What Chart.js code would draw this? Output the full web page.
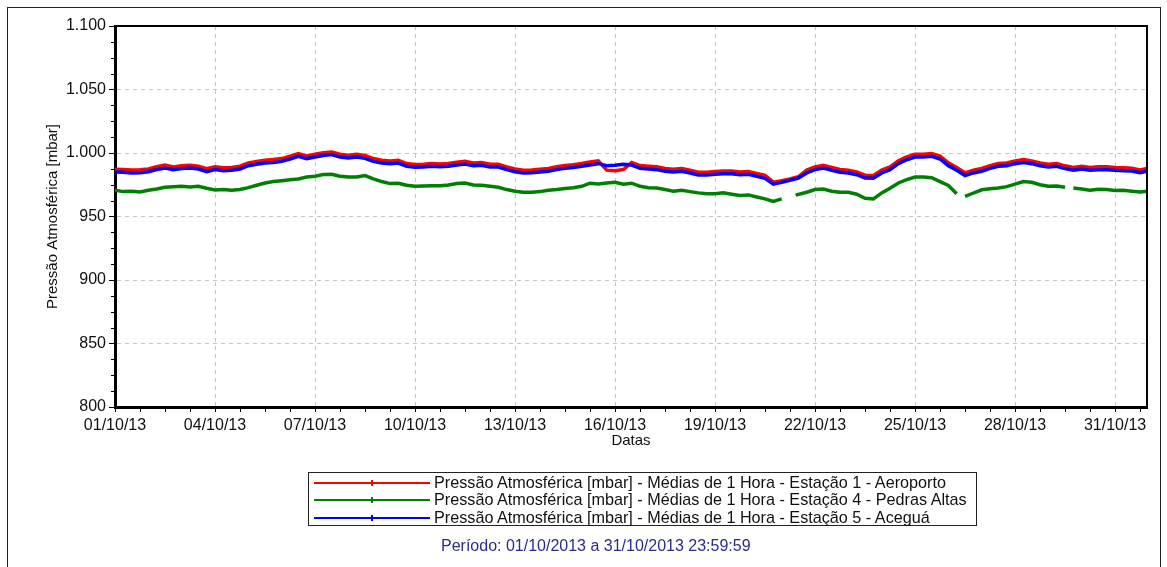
<!DOCTYPE html>
<html>
<head>
<meta charset="utf-8">
<script src="https://cdn.jsdelivr.net/npm/chart.js@4.4.1/dist/chart.umd.min.js"></script>
<style>
  html, body { margin: 0; padding: 0; background: #fff; }
  body { width: 1167px; height: 567px; position: relative; overflow: hidden;
         font-family: 'Liberation Sans', Arial, sans-serif; }
  #frame { position: absolute; left: 7px; top: 7px; width: 1152px; height: 600px; border: 1px solid #222; }
  #wrap { position: absolute; left: 0; top: 0; width: 1167px; height: 567px; }
  #legend { position: absolute; left: 308px; top: 472px; width: 669px; height: 54px;
            border: 1px solid #222; box-sizing: border-box; padding-top: 1px; }
  .row { position: relative; height: 17.3px; line-height: 17.3px; font-size: 16.2px; color: #111; white-space: nowrap; }
  .sample { position: absolute; left: 5px; top: 8px; width: 116px; height: 2px; }
  .tick { position: absolute; left: 57px; top: -2px; width: 2px; height: 6px; }
  .txt { position: absolute; left: 125px; top: 0; }
  #periodo { position: absolute; left: 441px; top: 537px; font-size: 16px; color: #2b2b8f; white-space: nowrap; }
</style>
</head>
<body>
<div id="frame"></div>
<div id="wrap"><canvas id="c" width="1167" height="567"></canvas></div>
<div id="legend"></div>
<div id="periodo">Período: 01/10/2013 a 31/10/2013 23:59:59</div>
<script>
// ---- data (hours since 01/10/2013 00:00, 6-hour readings) ----
const hours = Array.from({length: 125}, (_, i) => Math.min(i * 6, 743));

const estacao1 = [
  987.2, 987.0, 986.6, 986.8,  987.5, 989.2, 990.6, 989.0,  989.9, 990.4, 989.6, 987.6,
  989.1, 988.3, 988.6, 989.6,  992.2, 993.3, 994.3, 994.8,  995.6, 997.5, 999.6, 997.7,
  999.0, 1000.3, 1000.8, 999.0, 998.2, 999.0, 998.0, 995.6, 994.3, 993.8, 994.3, 991.7,
  990.9, 991.2, 991.7, 991.4,  991.7, 992.7, 993.5, 992.2,  992.5, 991.2, 991.2, 989.1,
  987.5, 986.5, 986.7, 987.2,  987.8, 989.1, 990.1, 990.7,  991.7, 993.0, 993.8, 986.5,
  986.0, 987.0, 992.5, 990.1,  989.6, 989.1, 987.8, 987.2,  987.8, 986.5, 984.9, 984.9,
  985.4, 985.9, 985.9, 985.1,  985.4, 983.8, 982.3, 977.0,  978.2, 979.5, 981.3, 986.5,
  989.1, 990.4, 988.6, 987.0,  986.5, 985.1, 982.5, 982.3,  986.5, 989.1, 993.8, 996.9,
  999.0, 999.0, 999.6, 997.5,  992.2, 988.6, 984.4, 986.5,  987.8, 990.1, 991.7, 992.2,
  993.8, 994.8, 993.8, 992.2,  991.2, 991.7, 989.9, 988.6,  989.6, 988.6, 989.1, 989.1,
  988.6, 988.3, 988.0, 986.7,  987.8
];

const estacao5 = [
  985.0, 984.8, 984.3, 984.5,  985.3, 986.9, 988.2, 986.9,  987.7, 988.2, 987.4, 985.3,
  986.9, 986.1, 986.4, 987.4,  990.0, 991.1, 992.1, 992.6,  993.4, 995.3, 997.4, 995.5,
  996.8, 998.1, 998.8, 996.8,  996.0, 996.8, 995.8, 993.4,  992.1, 991.6, 992.1, 989.5,
  988.7, 989.0, 989.5, 989.2,  989.5, 990.5, 991.3, 990.0,  990.3, 989.0, 989.0, 986.9,
  985.3, 984.3, 984.5, 985.0,  985.6, 986.9, 987.9, 988.5,  989.5, 990.5, 991.6, 990.0,
  990.3, 991.1, 990.5, 987.9,  987.4, 986.9, 985.6, 985.0,  985.6, 984.3, 982.7, 982.7,
  983.2, 983.7, 983.7, 982.9,  983.2, 981.6, 980.1, 975.4,  976.9, 978.5, 980.3, 984.3,
  986.9, 988.2, 986.4, 984.8,  984.3, 982.9, 980.3, 980.1,  984.3, 986.9, 991.6, 994.7,
  996.8, 996.8, 997.4, 995.3,  990.0, 986.4, 982.2, 984.3,  985.6, 987.9, 989.5, 990.0,
  991.6, 992.6, 991.6, 990.0,  989.0, 989.5, 987.7, 986.4,  987.4, 986.4, 986.9, 986.9,
  986.4, 986.1, 985.8, 984.5,  985.6
];

// Estação 4 has missing readings (null = gap)
const estacao4Hours = [
  0, 6, 12, 18, 24, 30, 36, 42, 48, 54, 60, 66, 72, 78, 84, 90, 96, 102, 108, 114, 120, 126, 132, 138,
  144, 150, 156, 162, 168, 174, 180, 186, 192, 198, 204, 210, 216, 222, 228, 234, 240, 246, 252, 258,
  264, 270, 276, 282, 288, 294, 300, 306, 312, 318, 324, 330, 336, 342, 348, 354, 360, 366, 372, 378,
  384, 390, 396, 402, 408, 414, 420, 426, 432, 438, 444, 450, 456, 462, 468, 474, 480, 485, 490, 498,
  504, 510, 516, 522, 528, 534, 540, 546, 552, 558, 564, 570, 576, 582, 588, 594, 600, 606, 609, 612,
  618, 624, 630, 636, 642, 648, 654, 660, 666, 672, 678, 684, 687, 690, 696, 702, 708, 714, 720, 726,
  732, 738, 743
];
const estacao4 = [
  970.6, 969.6, 969.9, 969.3, 970.6, 971.7, 973.0, 973.5, 973.8, 973.3, 973.8, 972.2, 970.9, 971.2,
  970.6, 971.2, 972.7, 974.6, 976.4, 977.5, 978.2, 979.0, 979.6, 981.1, 981.7, 983.0, 983.2, 981.7,
  981.1, 981.1, 982.2, 979.6, 977.5, 975.9, 976.2, 974.6, 973.8, 974.1, 974.3, 974.3, 974.8, 975.9,
  976.4, 974.8, 974.6, 973.8, 973.0, 971.2, 969.9, 969.1, 969.1, 969.6, 970.6, 971.2, 972.0, 972.7,
  973.8, 976.2, 975.6, 976.4, 977.0, 975.4, 976.2, 973.8, 972.7, 972.5, 971.2, 969.9, 970.6, 969.6,
  968.6, 968.0, 968.0, 968.6, 967.5, 966.5, 967.0, 965.4, 963.9, 961.8, 963.9, null, 966.8, 969.1,
  971.2, 971.7, 969.9, 969.1, 969.1, 967.5, 964.4, 963.9, 968.6, 972.2, 976.4, 979.0, 981.1, 981.1,
  980.5, 977.5, 974.5, 968.0, null, 965.8, 968.5, 971.0, 971.8, 972.5, 973.5, 975.5, 977.5, 977.0,
  975.0, 973.8, 974.0, 973.0, null, 972.5, 971.7, 970.6, 971.4, 971.2, 970.4, 970.6, 969.9, 969.3,
  969.9
];

const seriesNames = [
  'Pressão Atmosférica [mbar] - Médias de 1 Hora - Estação 1 - Aeroporto',
  'Pressão Atmosférica [mbar] - Médias de 1 Hora - Estação 4 - Pedras Altas',
  'Pressão Atmosférica [mbar] - Médias de 1 Hora - Estação 5 - Aceguá'
];
const seriesColors = ['#ff0000', '#008000', '#0000ff'];
const yLabelTicks = [800, 850, 900, 950, 1000, 1050, 1100];
const xLabelDays = ['01/10/13','04/10/13','07/10/13','10/10/13','13/10/13','16/10/13','19/10/13','22/10/13','25/10/13','28/10/13','31/10/13'];

const pts = (xs, ys) => xs.map((x, i) => ({x: x, y: ys[i]}));

const FONT = "'Liberation Sans', Arial, sans-serif";
Chart.defaults.font.family = FONT;
Chart.defaults.font.size = 16;
Chart.defaults.color = '#111';

const frameBorder = {
  id: 'frameBorder',
  afterDraw(chart) {
    const {ctx, chartArea: a} = chart;
    const y = chart.scales.y;
    ctx.save();
    ctx.strokeStyle = '#000';
    ctx.lineWidth = 2;
    ctx.beginPath();
    ctx.moveTo(a.left, a.top);
    ctx.lineTo(a.right, a.top);
    ctx.lineTo(a.right, a.bottom);
    ctx.stroke();
    // minor ticks on y axis
    ctx.lineWidth = 1;
    ctx.beginPath();
    y.ticks.forEach(t => {
      if (t.value % 50 !== 0) {
        const py = Math.round(y.getPixelForValue(t.value)) + 0.5;
        ctx.moveTo(a.left - 4, py);
        ctx.lineTo(a.left, py);
      }
    });
    ctx.stroke();
    ctx.restore();
  }
};

const chart = new Chart(document.getElementById('c'), {
  type: 'line',
  data: {
    datasets: [
      { label: seriesNames[0], data: pts(hours, estacao1), borderColor: seriesColors[0], order: 2 },
      { label: seriesNames[1], data: pts(estacao4Hours, estacao4), borderColor: seriesColors[1], order: 1 },
      { label: seriesNames[2], data: pts(hours, estacao5), borderColor: seriesColors[2], order: 0 }
    ]
  },
  options: {
    responsive: false,
    animation: false,
    devicePixelRatio: 1,
    spanGaps: false,
    layout: { padding: { left: 0, top: 26, right: 20, bottom: 117 } },
    elements: {
      line: { borderWidth: 3.5, tension: 0, fill: false },
      point: { radius: 0, hoverRadius: 0 }
    },
    plugins: { legend: { display: false }, tooltip: { enabled: false } },
    scales: {
      x: {
        type: 'linear', min: 0, max: 743,
        afterFit(s) { s.height = 43; },
        ticks: {
          stepSize: 18, autoSkip: false, maxRotation: 0, minRotation: 0, includeBounds: false,
          padding: 4, color: '#111', font: { size: 16 },
          callback(v) { return v % 72 === 0 ? xLabelDays[v / 72] : ''; }
        },
        grid: {
          color: c => (c.tick && c.tick.value % 72 === 0 && c.tick.value !== 0) ? '#c4c4c4' : 'rgba(0,0,0,0)',
          lineWidth: 1, tickLength: 5, tickColor: '#000', tickWidth: 1
        },
        border: { display: true, color: '#000', width: 3, dash: [4, 4] },
        title: { display: true, text: 'Datas', color: '#111', font: { size: 15 }, padding: { top: 0, bottom: 0 } }
      },
      y: {
        type: 'linear', min: 800, max: 1100,
        afterFit(s) { s.width = 115; },
        ticks: {
          stepSize: 12.5, autoSkip: false, padding: 3, color: '#111', font: { size: 16 },
          callback(v) {
            if (!yLabelTicks.includes(v)) return '';
            return v >= 1000 ? '1.' + String(v).slice(1) : String(v);
          }
        },
        grid: {
          color: c => (c.tick && c.tick.value % 50 === 0 && c.tick.value !== 800 && c.tick.value !== 1100) ? '#c4c4c4' : 'rgba(0,0,0,0)',
          lineWidth: 1, tickLength: 6, tickWidth: 1,
          tickColor: c => (c.tick && c.tick.value % 50 === 0) ? '#000' : 'rgba(0,0,0,0)'
        },
        border: { display: true, color: '#000', width: 3, dash: [4, 4] },
        title: { display: true, text: 'Pressão Atmosférica [mbar]', color: '#111', font: { size: 15 }, padding: { top: 44, bottom: 0 } }
      }
    }
  },
  plugins: [frameBorder]
});

// HTML legend built from the datasets
const leg = document.getElementById('legend');
chart.data.datasets.forEach(ds => {
  const row = document.createElement('div');
  row.className = 'row';
  const s = document.createElement('div');
  s.className = 'sample';
  s.style.background = ds.borderColor;
  const t = document.createElement('div');
  t.className = 'tick';
  t.style.background = ds.borderColor;
  s.appendChild(t);
  const tx = document.createElement('div');
  tx.className = 'txt';
  tx.textContent = ds.label;
  row.appendChild(s);
  row.appendChild(tx);
  leg.appendChild(row);
});
</script>
</body>
</html>
